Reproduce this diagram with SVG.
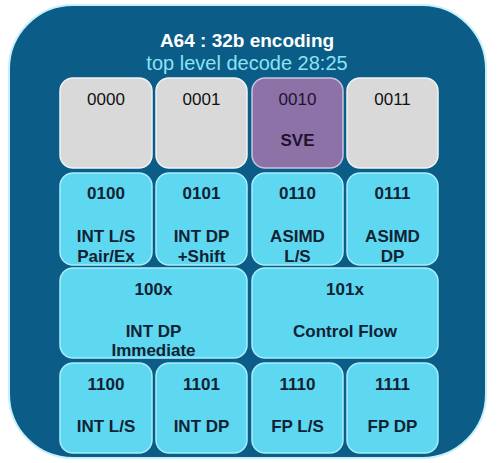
<svg xmlns="http://www.w3.org/2000/svg" width="500" height="463" viewBox="0 0 500 463">
<style>
text{font-family:"Liberation Sans",Arial,sans-serif;text-anchor:middle}
.t1{font-size:19px;font-weight:bold;fill:#ffffff}
.t2{font-size:20px;fill:#8ae3f6}
.g{fill:#d9d9d9;stroke:#eef4f6;stroke-width:1.5}
.p{fill:#8c72a6;stroke:#c9c2e0;stroke-width:1.5}
.c{fill:#5ed7f1;stroke:#a8eefb;stroke-width:1.5}
.lr{font-size:17px;fill:#111111}
.lb{font-size:17px;font-weight:bold;fill:#112233}
.lp{font-size:17px;fill:#1e1230}
.lpb{font-size:17px;font-weight:bold;fill:#1e1230}
</style>
<rect width="500" height="463" fill="#ffffff"/>
<g id="frame">
<rect x="9" y="5" width="477" height="453" rx="64" ry="64" fill="#0b5c86" stroke="#c6f0fa" stroke-width="2"/>
<text class="t1" x="247" y="47">A64 : 32b encoding</text>
<text class="t2" x="247" y="70">top level decode 28:25</text>
</g>
<g id="n0000"><rect class="g" x="60" y="78" width="92" height="90" rx="13"/><text class="lr" x="106" y="105">0000</text></g>
<g id="n0001"><rect class="g" x="156" y="78" width="91" height="90" rx="13"/><text class="lr" x="201.5" y="105">0001</text></g>
<g id="n0010"><rect class="p" x="252" y="78" width="91" height="90" rx="13"/><text class="lp" x="297.5" y="105">0010</text><text class="lpb" x="297.5" y="146">SVE</text></g>
<g id="n0011"><rect class="g" x="347" y="78" width="91" height="90" rx="13"/><text class="lr" x="392.5" y="105">0011</text></g>
<g id="n0100"><rect class="c" x="60" y="173" width="92" height="92" rx="13"/><text class="lb" x="106" y="199">0100</text><text class="lb" x="106" y="242">INT L/S</text><text class="lb" x="106" y="262">Pair/Ex</text></g>
<g id="n0101"><rect class="c" x="156" y="173" width="91" height="92" rx="13"/><text class="lb" x="201.5" y="199">0101</text><text class="lb" x="201.5" y="242">INT DP</text><text class="lb" x="201.5" y="262">+Shift</text></g>
<g id="n0110"><rect class="c" x="252" y="173" width="91" height="92" rx="13"/><text class="lb" x="297.5" y="199">0110</text><text class="lb" x="297.5" y="242">ASIMD</text><text class="lb" x="297.5" y="262">L/S</text></g>
<g id="n0111"><rect class="c" x="347" y="173" width="91" height="92" rx="13"/><text class="lb" x="392.5" y="199">0111</text><text class="lb" x="392.5" y="242">ASIMD</text><text class="lb" x="392.5" y="262">DP</text></g>
<g id="n100x"><rect class="c" x="60" y="268" width="187" height="90" rx="13"/><text class="lb" x="153.5" y="295">100x</text><text class="lb" x="153.5" y="337">INT DP</text><text class="lb" x="153.5" y="356">Immediate</text></g>
<g id="n101x"><rect class="c" x="252" y="268" width="186" height="90" rx="13"/><text class="lb" x="345" y="295">101x</text><text class="lb" x="345" y="337">Control Flow</text></g>
<g id="n1100"><rect class="c" x="60" y="363" width="92" height="90" rx="13"/><text class="lb" x="106" y="390">1100</text><text class="lb" x="106" y="432">INT L/S</text></g>
<g id="n1101"><rect class="c" x="156" y="363" width="91" height="90" rx="13"/><text class="lb" x="201.5" y="390">1101</text><text class="lb" x="201.5" y="432">INT DP</text></g>
<g id="n1110"><rect class="c" x="252" y="363" width="91" height="90" rx="13"/><text class="lb" x="297.5" y="390">1110</text><text class="lb" x="297.5" y="432">FP L/S</text></g>
<g id="n1111"><rect class="c" x="347" y="363" width="91" height="90" rx="13"/><text class="lb" x="392.5" y="390">1111</text><text class="lb" x="392.5" y="432">FP DP</text></g>
<g id="connectors"/>
</svg>
